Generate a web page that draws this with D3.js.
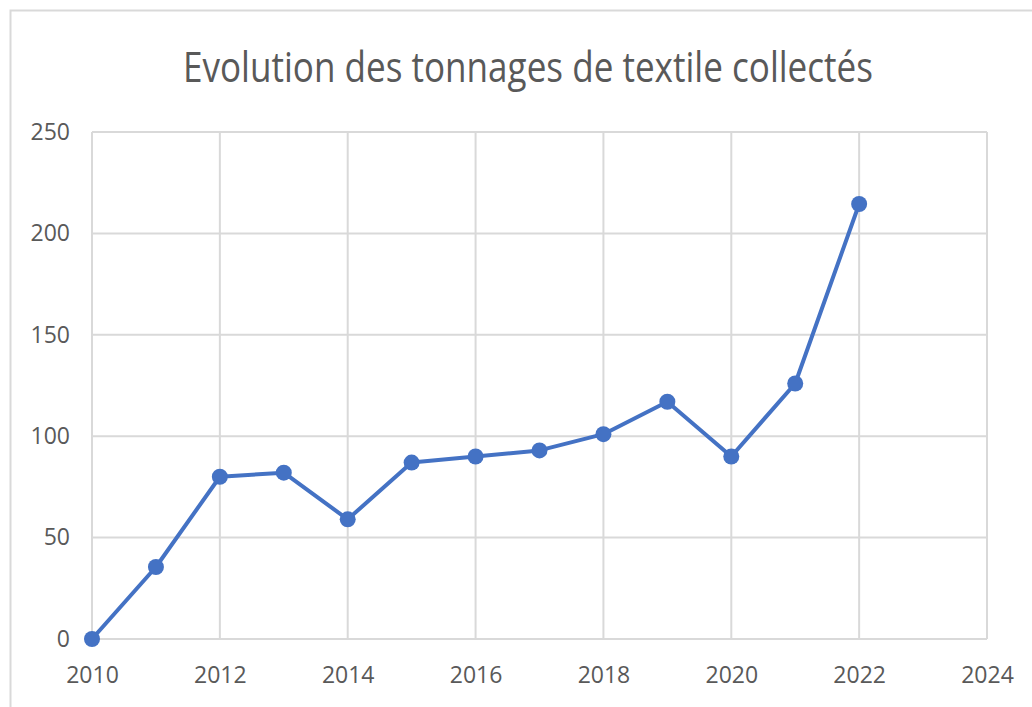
<!DOCTYPE html>
<html>
<head>
<meta charset="utf-8">
<script src="https://cdn.jsdelivr.net/npm/d3@7"></script>
<style>
  body { margin: 0; background: #fff; }
  svg { display: block; }
</style>
</head>
<body>
<div id="vis"></div>
<script>
// data
const years = [2010, 2011, 2012, 2013, 2014, 2015, 2016, 2017, 2018, 2019, 2020, 2021, 2022];
const tonnages = [0, 35.5, 80, 82, 59, 87, 90, 93, 101, 117, 90, 126, 214.5];
const xTicks = [2010, 2012, 2014, 2016, 2018, 2020, 2022, 2024];
const yTicks = [0, 50, 100, 150, 200, 250];
const title = "Evolution des tonnages de textile collectés";

const W = 1032, H = 707;
const font = `"Open Sans", "Noto Sans", sans-serif`;
const textColor = "#595959";
const gridColor = "#d9d9d9";
const lineColor = "#4472c4";

const svg = d3.select("#vis").append("svg")
    .attr("width", W)
    .attr("height", H);

// chart frame
svg.append("path")
    .attr("d", `M10.5,${H} V10.5 H${W}`)
    .attr("fill", "none")
    .attr("stroke", gridColor)
    .attr("stroke-width", 2);

const x = d3.scaleLinear().domain([2010, 2024]).range([92, 987]);
const y = d3.scaleLinear().domain([0, 250]).range([639, 132]);

// title
svg.append("text")
    .attr("x", 528)
    .attr("y", 82)
    .attr("text-anchor", "middle")
    .style("font-family", font)
    .style("font-size", "42px")
    .attr("fill", textColor)
    .attr("textLength", 690)
    .attr("lengthAdjust", "spacingAndGlyphs")
    .text(title);

// grid
const grid = svg.append("g");
grid.selectAll(".h").data(yTicks).join("line")
    .attr("x1", x(2010)).attr("x2", x(2024))
    .attr("y1", d => y(d)).attr("y2", d => y(d))
    .attr("stroke", gridColor).attr("stroke-width", 2);
grid.selectAll(".v").data(xTicks).join("line")
    .attr("x1", d => x(d)).attr("x2", d => x(d))
    .attr("y1", y(0)).attr("y2", y(250))
    .attr("stroke", gridColor).attr("stroke-width", 2);

// axes labels through d3 axes, lines hidden
const yAxis = svg.append("g")
    .attr("transform", `translate(${x(2010)},0)`)
    .call(d3.axisLeft(y).tickValues(yTicks).tickSize(0).tickPadding(22));
const xAxis = svg.append("g")
    .attr("transform", `translate(0,${y(0)})`)
    .call(d3.axisBottom(x).tickValues(xTicks).tickFormat(d3.format("d")).tickSize(0).tickPadding(28));

[yAxis, xAxis].forEach(a => {
    a.select(".domain").remove();
    a.selectAll("text")
        .style("font-family", font)
        .style("font-size", "23px")
        .attr("fill", textColor);
});

// series
const pts = years.map((yr, i) => [yr, tonnages[i]]);
svg.append("path")
    .datum(pts)
    .attr("d", d3.line().x(d => x(d[0])).y(d => y(d[1])))
    .attr("fill", "none")
    .attr("stroke", lineColor)
    .attr("stroke-width", 4)
    .attr("stroke-linejoin", "round");

svg.append("g").selectAll("circle").data(pts).join("circle")
    .attr("cx", d => x(d[0]))
    .attr("cy", d => y(d[1]))
    .attr("r", 8)
    .attr("fill", lineColor);
</script>
</body>
</html>
